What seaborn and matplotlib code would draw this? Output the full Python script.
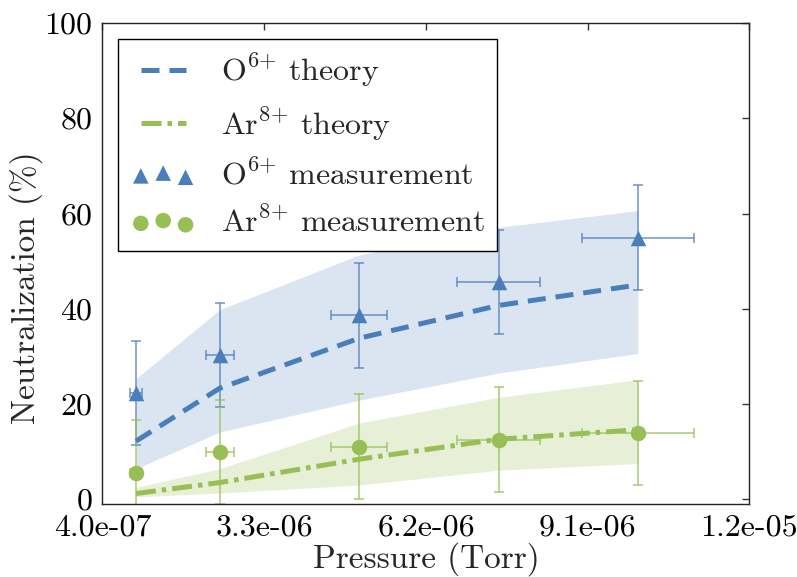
import numpy as np
import pandas as pd
import matplotlib
matplotlib.use("Agg")
import matplotlib.pyplot as plt
import seaborn as sns

# ---- data ----
pressure = [1.0e-6, 2.5e-6, 5.0e-6, 7.5e-6, 1.0e-5]
pressure_err = [1.0e-7, 2.5e-7, 5.0e-7, 7.5e-7, 1.0e-6]

o_theory = [12.2, 23.3, 33.8, 40.7, 45.0]
o_theory_low = [6.4, 14.1, 20.8, 26.5, 30.6]
o_theory_high = [25.3, 39.8, 51.3, 57.1, 60.6]

ar_theory = [1.2, 3.5, 8.4, 12.6, 14.6]
ar_theory_low = [0.5, 1.3, 3.0, 6.1, 7.5]
ar_theory_high = [2.5, 6.4, 16.0, 21.4, 25.1]

o_meas = [22.3, 30.3, 38.6, 45.6, 54.9]
o_meas_err = [11, 11, 11, 11, 11]
ar_meas = [5.6, 9.9, 11.0, 12.5, 13.9]
ar_meas_err = [11, 11, 11, 11, 11]

xtick_vals = [4.0e-7, 3.3e-6, 6.2e-6, 9.1e-6, 1.2e-5]
xtick_labels = ["4.0e-07", "3.3e-06", "6.2e-06", "9.1e-06", "1.2e-05"]
ytick_vals = [0, 20, 40, 60, 80, 100]

labels = [r"$\mathrm{O}^{6{+}}$ theory", r"$\mathrm{Ar}^{8{+}}$ theory",
          r"$\mathrm{O}^{6{+}}$ measurement", r"$\mathrm{Ar}^{8{+}}$ measurement"]

BLUE = "#4a7ebb"
GREEN = "#98bf56"

# ---- style ----
sns.set_theme(style="white")
plt.rcParams["font.family"] = ["cmr10", "DejaVu Sans"]
plt.rcParams["mathtext.fontset"] = "cm"
plt.rcParams["axes.formatter.use_mathtext"] = True
plt.rcParams["axes.unicode_minus"] = False
FS = 23
LFS = 24

df_o = pd.DataFrame({"p": pressure, "v": o_theory, "lo": o_theory_low, "hi": o_theory_high,
                     "m": o_meas, "me": o_meas_err, "pe": pressure_err})
df_ar = pd.DataFrame({"p": pressure, "v": ar_theory, "lo": ar_theory_low, "hi": ar_theory_high,
                      "m": ar_meas, "me": ar_meas_err, "pe": pressure_err})

fig = plt.figure(figsize=(7.97, 5.77), dpi=100)
ax = fig.add_axes([0.1286, 0.1265, 0.9404 - 0.1286, 0.9601 - 0.1265])
ax.set_facecolor("white")

# bands
ax.fill_between(df_o["p"], df_o["lo"], df_o["hi"], color=BLUE, alpha=0.2, linewidth=0, zorder=1)
ax.fill_between(df_ar["p"], df_ar["lo"], df_ar["hi"], color=GREEN, alpha=0.23, linewidth=0, zorder=1)

# theory lines
sns.lineplot(data=df_o, x="p", y="v", ax=ax, color=BLUE, linewidth=3.6,
             label=labels[0], legend=False, zorder=3)
l1 = ax.lines[-1]
l1.set_linestyle((0, (3.6, 2.0)))
sns.lineplot(data=df_ar, x="p", y="v", ax=ax, color=GREEN, linewidth=3.6,
             label=labels[1], legend=False, zorder=3)
l2 = ax.lines[-1]
l2.set_linestyle((0, (4.0, 1.2, 0.9, 1.2)))

# error bars
for d, c in [(df_o, BLUE), (df_ar, GREEN)]:
    ax.errorbar(d["p"], d["m"], xerr=d["pe"], yerr=d["me"], fmt="none", ecolor=c,
                alpha=0.75, elinewidth=1.2, capsize=3.5, capthick=1.2, zorder=2)

# measurement markers
sns.scatterplot(data=df_o, x="p", y="m", ax=ax, marker="^", s=125, color=BLUE,
                linewidth=0, label=labels[2], legend=False, zorder=4)
s1 = ax.collections[-1]
sns.scatterplot(data=df_ar, x="p", y="m", ax=ax, marker="o", s=125, color=GREEN,
                linewidth=0, label=labels[3], legend=False, zorder=4)
s2 = ax.collections[-1]

# axes
ax.set_xlim(4.0e-7, 1.2e-5)
ax.set_ylim(-1, 100)
ax.set_xticks(xtick_vals)
ax.set_xticklabels(xtick_labels)
ax.set_yticks(ytick_vals)
ax.tick_params(direction="in", length=5, width=1, colors="#333333", labelcolor="black",
               labelsize=FS, top=True, right=True, pad=7)
for sp in ax.spines.values():
    sp.set_color("#222222")
    sp.set_linewidth(1.0)
ax.set_xlabel("Pressure (Torr)", fontsize=LFS, labelpad=1)
ax.set_ylabel("Neutralization (%)", fontsize=LFS)
ax.yaxis.set_label_coords(-0.092, 0.45)

leg = ax.legend([l1, l2, s1, s2], labels, loc="upper left", fontsize=FS,
                numpoints=2, scatterpoints=3, scatteryoffsets=[0.375, 0.5, 0.3125],
                borderpad=0.4, labelspacing=0.5, handlelength=2.0, handletextpad=0.8,
                borderaxespad=0.5, fancybox=False, framealpha=1, edgecolor="black",
                frameon=True)
leg.get_frame().set_linewidth(1.0)

fig.savefig("out.png", dpi=100, facecolor="white")
